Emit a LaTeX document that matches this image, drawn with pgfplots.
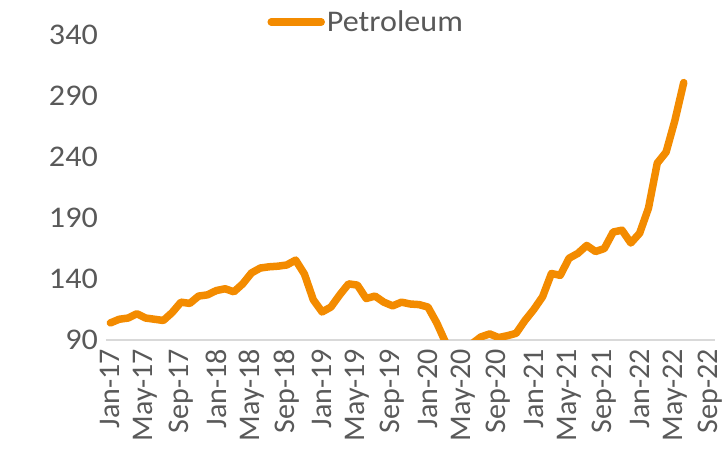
\documentclass[border=0pt]{standalone}
\usepackage{fontspec}
\setmainfont{Carlito}
\newfontfamily\wide{Carlito}[FakeStretch=1.07]
\usepackage{pgfplots}
\pgfplotsset{compat=1.18}
\definecolor{petro}{RGB}{243,139,0}
\definecolor{txt}{RGB}{89,89,89}
\definecolor{base}{RGB}{217,217,217}
\begin{document}
\begin{tikzpicture}
\begin{axis}[
  scale only axis, width=608.6pt, height=305pt,
  xmin=-0.5, xmax=68.5, ymin=90, ymax=340,
  ytick={90,140,...,340},
  xtick={0,4,...,68},
  xticklabels={Jan-17,May-17,Sep-17,Jan-18,May-18,Sep-18,Jan-19,May-19,Sep-19,Jan-20,May-20,Sep-20,Jan-21,May-21,Sep-21,Jan-22,May-22,Sep-22},
  axis x line*=bottom, axis y line*=left,
  x axis line style={draw=base, line width=1.5pt, -},
  y axis line style={draw=none},
  major tick length=0pt, tick style={draw=none},
  /pgf/number format/assume math mode=true,
  ticklabel style={font=\fontsize{30}{36}\selectfont, text=txt},
  xticklabel style={rotate=90, anchor=east, inner xsep=9pt, inner ysep=0pt},
  yticklabel style={anchor=east, inner xsep=8pt, font=\fontsize{30}{36}\selectfont\wide},
  legend style={at={(axis description cs:0.4275,1.0426)}, anchor=center, draw=none, fill=none,
    font=\fontsize{30}{36}\selectfont\wide, text=txt, inner sep=0pt, nodes={inner sep=2pt}},
  legend image code/.code={\draw[#1, line cap=round] (0pt,0pt) -- (50pt,0pt);},
]
\addplot[petro, line width=7.5pt, line join=round, line cap=round] coordinates {
(0,104) (1,107) (2,108) (3,111.5) (4,108) (5,107) (6,106) (7,112.5) (8,121) (9,120)
(10,126) (11,127) (12,130.5) (13,132) (14,129.5) (15,136) (16,145) (17,149) (18,150) (19,150.5)
(20,151.5) (21,155.5) (22,144) (23,123) (24,113) (25,117) (26,127) (27,136) (28,135) (29,124)
(30,126) (31,121) (32,118) (33,121) (34,119.5) (35,119) (36,117) (37,104) (38,88) (39,55)
(40,62) (41,87) (42,92.5) (43,95) (44,92) (45,93.5) (46,95.5) (47,106) (48,115) (49,125.5)
(50,144.5) (51,143) (52,157) (53,161) (54,167.5) (55,162.5) (56,165) (57,178.5) (58,180) (59,169.5)
(60,177.5) (61,198) (62,235) (63,244) (64,270) (65,301)
};
\addlegendentry{Petroleum}
\end{axis}
\path ([shift={(-106pt,-105pt)}]current axis.south west) rectangle ([shift={(9.4pt,35pt)}]current axis.north east);
\end{tikzpicture}
\end{document}
